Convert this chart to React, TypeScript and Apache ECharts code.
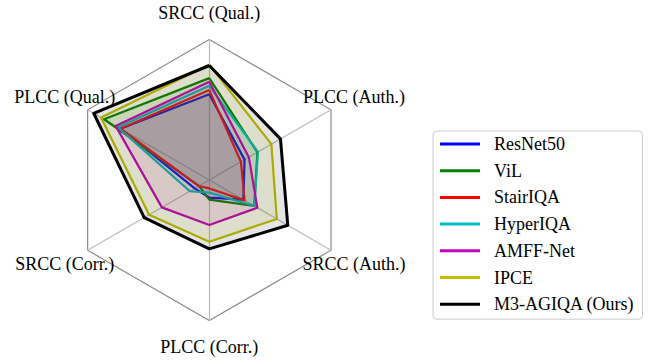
import React, { useEffect, useRef } from "react";
import * as echarts from "echarts";

const CATEGORIES = ["SRCC (Qual.)", "PLCC (Qual.)", "SRCC (Corr.)", "PLCC (Corr.)", "SRCC (Auth.)", "PLCC (Auth.)"];
const SERIES_NAMES = ["ResNet50", "ViL", "StairIQA", "HyperIQA", "AMFF-Net", "IPCE", "M3-AGIQA (Ours)"];
const COLORS = ["#0000ff", "#008000", "#ff0000", "#00bfbf", "#bf00bf", "#bfbf00", "#000000"];
const RESNET50 = [0.61, 0.73, 0.12, 0.125, 0.28, 0.29];
const VIL = [0.725, 0.865, 0.085, 0.14, 0.37, 0.395];
const STAIRIQA = [0.64, 0.73, 0.086, 0.06, 0.29, 0.26];
const HYPERIQA = [0.67, 0.75, 0.16, 0.09, 0.37, 0.4];
const AMFFNET = [0.7, 0.77, 0.39, 0.32, 0.395, 0.325];
const IPCE = [0.82, 0.89, 0.495, 0.44, 0.555, 0.51];
const M3AGIQA = [0.815, 0.95, 0.535, 0.49, 0.645, 0.585];
const VALUES = [RESNET50, VIL, STAIRIQA, HYPERIQA, AMFFNET, IPCE, M3AGIQA];

const FONT = "'Liberation Serif', 'Times New Roman', serif";
const CX = 209.3;
const CY = 180;
const R = 140.5;
const LABEL_R = 167;

export default function App() {
  const ref = useRef<HTMLDivElement>(null);
  useEffect(() => {
    if (!ref.current) return;
    const chart = echarts.init(ref.current, null, { renderer: "svg" });
    const labels = CATEGORIES.map((name, i) => {
      const a = ((90 + 60 * i) * Math.PI) / 180;
      return {
        type: "text",
        x: CX + LABEL_R * Math.cos(a),
        y: CY - LABEL_R * Math.sin(a),
        style: {
          text: name,
          fontFamily: FONT,
          fontSize: 18,
          fill: "#000",
          textAlign: "center",
          textVerticalAlign: "middle",
        },
        z: 10,
      };
    });
    chart.setOption({
      animation: false,
      backgroundColor: "#ffffff",
      radar: {
        center: [CX, CY],
        radius: R,
        startAngle: 90,
        shape: "polygon",
        splitNumber: 1,
        indicator: CATEGORIES.map((n) => ({ name: n, min: 0, max: 1 })),
        axisName: { show: false },
        splitLine: { lineStyle: { color: "#8c8c8c", width: 1.2 } },
        splitArea: { show: false },
        axisLine: { lineStyle: { color: "#bdbdbd", width: 1.2 } },
        axisTick: { show: false },
        axisLabel: { show: false },
      },
      legend: {
        orient: "vertical",
        left: 433,
        top: 131,
        data: SERIES_NAMES,
        icon: "rect",
        itemWidth: 40,
        itemHeight: 3,
        itemGap: 8.7,
        textStyle: { fontFamily: FONT, fontSize: 18, color: "#000", padding: [0, 0, 0, 9], lineHeight: 18 },
        borderColor: "#cccccc",
        borderWidth: 1,
        borderRadius: 4,
        padding: [4, 8, 6, 7],
        backgroundColor: "#ffffff",
      },
      graphic: labels,
      series: [
        {
          type: "radar",
          symbol: "none",
          data: SERIES_NAMES.map((name, i) => ({
            name,
            value: VALUES[i],
            lineStyle: { color: COLORS[i], width: i === 6 ? 3 : 2.2 },
            itemStyle: { color: COLORS[i] },
            areaStyle: { color: COLORS[i], opacity: 0.1 },
          })),
        },
      ],
    });
    return () => chart.dispose();
  }, []);
  return <div ref={ref} style={{ position: "fixed", left: 0, top: 0, width: 655, height: 360 }} />;
}
